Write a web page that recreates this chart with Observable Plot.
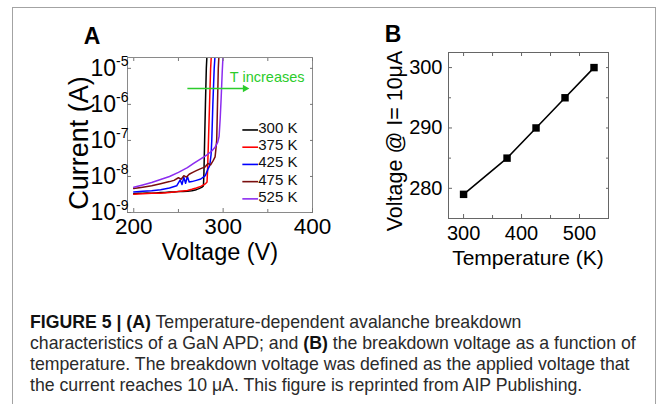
<!DOCTYPE html>
<html><head><meta charset="utf-8">
<script src="https://cdn.jsdelivr.net/npm/d3@7"></script>
<script src="https://cdn.jsdelivr.net/npm/@observablehq/plot@0.6"></script>
<style>
body{margin:0;background:#fff;}
#fig{position:relative;width:665px;height:404px;overflow:hidden;font-family:"Liberation Sans",Arial,sans-serif;background:#fff;}
#border{position:absolute;left:12px;top:7px;width:642px;height:420px;border:1.5px solid #a3a3a3;border-bottom:none;}
.panel{position:absolute;left:0;top:0;}
#caption{position:absolute;left:30px;top:312px;font-size:17.7px;line-height:21px;color:#2a2a2a;white-space:nowrap;}
#caption b{color:#111;}
</style></head>
<body>
<div id="fig">
  <div id="border"></div>
  <div id="pa" class="panel"></div>
  <div id="pb" class="panel"></div>
  <div id="caption"><b>FIGURE 5 | (A)</b> Temperature-dependent avalanche breakdown<br>characteristics of a GaN APD; and <b>(B)</b> the breakdown voltage as a function of<br>temperature. The breakdown voltage was defined as the applied voltage that<br>the current reaches 10 μA. This figure is reprinted from AIP Publishing.</div>
</div>
<script>
// ---------- Panel A data ----------
const temps = ["300 K", "375 K", "425 K", "475 K", "525 K"];
const colors = ["#000000", "#ff0000", "#0000ff", "#7a0e0e", "#8c2cf0"];

const v300 = [200,205,210,215,220,225,230,235,240,245,250,255,260,265,270,273,276,278,278.5,279.3,280.2,281.2,281.8];
const i300 = [3.3e-9,3.4e-9,3.4e-9,3.5e-9,3.4e-9,3.5e-9,3.6e-9,3.6e-9,3.7e-9,3.7e-9,3.8e-9,3.8e-9,3.9e-9,4.0e-9,4.3e-9,4.6e-9,5.0e-9,5.5e-9,1.2e-8,1e-7,1e-6,1e-5,2e-5];

const v375 = [200,210,220,230,240,250,260,265,270,275,280,282,282.6,283.6,284.8,286,286.7];
const i375 = [3.2e-9,3.3e-9,3.4e-9,3.4e-9,3.6e-9,3.8e-9,4.1e-9,4.4e-9,4.8e-9,5.3e-9,6.2e-9,7e-9,1.5e-8,1e-7,1e-6,1e-5,2e-5];

const v425 = [200,210,220,230,240,248,252,254,256,258,260,262,265,270,275,280,283,285,286.5,287.3,288.5,290,290.8];
const i425 = [3.7e-9,3.9e-9,4.0e-9,4.3e-9,4.8e-9,5.5e-9,8e-9,6e-9,9.5e-9,6.5e-9,1e-8,7e-9,7.2e-9,7.8e-9,8.5e-9,1.05e-8,1.6e-8,2e-8,4e-8,1e-7,1e-6,1e-5,2e-5];

const v475 = [200,210,220,230,240,245,250,253,256,259,262,266,270,275,280,283,286,289,291,292,292.8,293.7,294.6,295.2];
const i475 = [4.6e-9,5.0e-9,5.5e-9,6.3e-9,7.2e-9,7.8e-9,9.2e-9,8.4e-9,1.05e-8,9.6e-9,1.15e-8,1.3e-8,1.45e-8,1.65e-8,1.85e-8,2.3e-8,2.1e-8,2.8e-8,3.5e-8,6e-8,1e-7,1e-6,1e-5,2e-5];

const v525 = [200,210,220,230,240,250,260,267,275,282,287,291,294,295.5,296.7,297.8,299,299.8];
const i525 = [5e-9,5.8e-9,6.8e-9,8.2e-9,1.0e-8,1.3e-8,1.75e-8,2.3e-8,3.1e-8,4e-8,5e-8,6.5e-8,9e-8,1.3e-7,4e-7,1.5e-6,8e-6,2e-5];

const xTicksA = [200, 300, 400];
const xMinorA = [250, 350];
const yTicksA = [1e-9, 1e-8, 1e-7, 1e-6, 1e-5];

// ---------- Panel B data ----------
const tempK = [300, 375, 425, 475, 525];
const vBreak = [279, 285, 290, 295, 300];
const xTicksB = [300, 400, 500];
const xMinorB = [350, 450, 550];
const yTicksB = [280, 290, 300];
const yMinorB = [285, 295];

const FONT = "Liberation Sans, Arial, Helvetica, sans-serif";

const seriesV = [v300, v375, v425, v475, v525];
const seriesI = [i300, i375, i425, i475, i525];
const rows = [];
seriesV.forEach((vs, k) => vs.forEach((v, j) => rows.push({v, i: seriesI[k][j], t: temps[k], c: colors[k]})));

// legend rows (layout in log space)
const legY = k => 10 ** (-6.66 - 0.478 * k);
const legLines = temps.map((t, k) => ({x1: 321.5, x2: 339, y: 10 ** (-6.66 - 0.478 * k - 0.05), c: colors[k]}));
const legText = temps.map((t, k) => ({x: 339.3, y: legY(k), t}));

const blank = () => "";
const W = 665, H = 270;

const plotA = Plot.plot({
  width: W, height: H,
  marginLeft: 127, marginRight: W - 312, marginTop: 57, marginBottom: H - 212,
  style: {fontFamily: FONT, background: "transparent", overflow: "visible", color: "#000"},
  x: {domain: [193, 400]},
  y: {type: "log", domain: [1e-9, 2e-5]},
  color: {type: "identity"},
  marks: [
    Plot.line(rows, {x: "v", y: "i", z: "t", stroke: "c", strokeWidth: 1.5, clip: true}),
    Plot.link(legLines, {x1: "x1", x2: "x2", y1: "y", y2: "y", stroke: "c", strokeWidth: 1.6}),
    Plot.text(legText, {x: "x", y: "y", text: "t", textAnchor: "start", fontSize: 15, fill: "#111"}),
    Plot.link([{a: 260, b: 323, y: 2.76e-6}], {x1: "a", x2: "b", y1: "y", y2: "y", stroke: "#2ccc2c", strokeWidth: 1.6}),
    Plot.dot([{x: 324.5, y: 2.76e-6}], {x: "x", y: "y", symbol: "triangle2", r: 3.6, rotate: 90, fill: "#2ccc2c"}),
    Plot.text([{x: 307.5, y: 5.6e-6, t: "T increases"}], {x: "x", y: "y", text: "t", textAnchor: "start", fontSize: 14.5, fill: "#2ccc2c"}),
    Plot.frame({stroke: "#8a8a8a", strokeWidth: 1}),
    Plot.axisX({anchor: "bottom", ticks: xTicksA, tickSize: -4, tickPadding: 10, fontSize: 22.5, label: null, stroke: "#777"}),
    Plot.axisX({anchor: "bottom", ticks: xMinorA, tickSize: -3, tickFormat: blank, label: null, stroke: "#777"}),
    Plot.axisX({anchor: "top", ticks: xTicksA.concat(xMinorA), tickSize: -3, tickFormat: blank, label: null, stroke: "#777"}),
    Plot.axisY({anchor: "left", ticks: yTicksA, tickSize: -4, tickPadding: 3, fontSize: 23, label: null, stroke: "#777",
      tickFormat: d => "10^" + Math.round(Math.log10(d))}),
    Plot.axisY({anchor: "right", ticks: yTicksA, tickSize: -3, tickFormat: blank, label: null, stroke: "#777"})
  ]
});
document.getElementById("pa").appendChild(plotA);

const plotB = Plot.plot({
  width: W, height: H,
  marginLeft: 448, marginRight: W - 608, marginTop: 52, marginBottom: H - 218,
  style: {fontFamily: FONT, background: "transparent", overflow: "visible", color: "#000"},
  x: {domain: [274, 550]},
  y: {domain: [275, 302.5]},
  marks: [
    Plot.line(tempK.map((t, k) => ({t, v: vBreak[k]})), {x: "t", y: "v", stroke: "#000", strokeWidth: 1.6}),
    Plot.dot(tempK.map((t, k) => ({t, v: vBreak[k]})), {x: "t", y: "v", symbol: "square", r: 4.2, fill: "#000"}),
    Plot.frame({stroke: "#666", strokeWidth: 1}),
    Plot.axisX({anchor: "bottom", ticks: xTicksB, tickSize: -4, tickPadding: 11, fontSize: 20, label: null, stroke: "#666"}),
    Plot.axisX({anchor: "bottom", ticks: xMinorB, tickSize: -3, tickFormat: blank, label: null, stroke: "#666"}),
    Plot.axisX({anchor: "top", ticks: xTicksB.concat(xMinorB), tickSize: -3, tickFormat: blank, label: null, stroke: "#666"}),
    Plot.axisY({anchor: "left", ticks: yTicksB, tickSize: -4, tickPadding: 10, fontSize: 20, label: null, stroke: "#666"}),
    Plot.axisY({anchor: "left", ticks: yMinorB, tickSize: -3, tickFormat: blank, label: null, stroke: "#666"}),
    Plot.axisY({anchor: "right", ticks: yTicksB.concat(yMinorB), tickSize: -3, tickFormat: blank, label: null, stroke: "#666"})
  ]
});
document.getElementById("pb").appendChild(plotB);

// superscript exponents on panel A y tick labels
d3.select(plotA).selectAll("text").each(function () {
  const s = this.textContent;
  if (s.includes("^")) {
    const [b, e] = s.split("^");
    const t = d3.select(this);
    t.text(null);
    t.append("tspan").text(b);
    t.append("tspan").attr("dy", "-10").attr("font-size", "14").text(e.replace("−", "-"));
  }
});

// axis titles and panel letters
function addText(svg, x, y, str, size, opts = {}) {
  const t = d3.select(svg).append("text")
    .attr("x", x).attr("y", y)
    .attr("text-anchor", "middle").attr("dominant-baseline", "central")
    .attr("font-family", FONT).attr("font-size", size).attr("fill", "#000")
    .text(str);
  if (opts.bold) t.attr("font-weight", "bold");
  if (opts.rotate) t.attr("transform", `rotate(-90 ${x} ${y})`);
  return t;
}
addText(plotA, 92, 36, "A", 23, {bold: true});
addText(plotA, 79, 143, "Current (A)", 27, {rotate: true});
addText(plotA, 220, 252, "Voltage (V)", 23.5);
addText(plotB, 393, 34, "B", 23, {bold: true});
addText(plotB, 395, 141, "Voltage @ I= 10μA", 21.5, {rotate: true});
addText(plotB, 528, 257, "Temperature (K)", 21);
</script>
</body></html>
